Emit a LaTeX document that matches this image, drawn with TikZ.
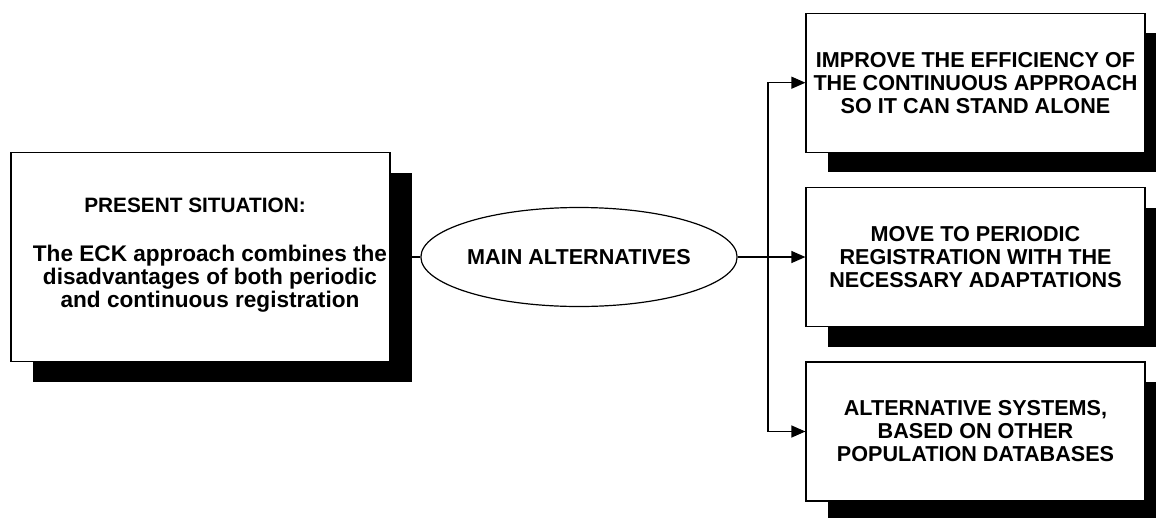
\documentclass[tikz,border=0pt]{standalone}
\usepackage{fontspec}
\setmainfont{Liberation Sans}
\usetikzlibrary{shapes.geometric,shadows,arrows.meta}
\tikzset{
  blockbox/.style={draw, line width=1.2pt, fill=white, minimum width=339pt, minimum height=139pt,
    align=center, inner sep=0pt,
    drop shadow={shadow xshift=22pt, shadow yshift=-20pt, fill=black, opacity=1}},
  link/.style={line width=1.2pt},
  pointer/.style={link, -{Triangle[length=14pt,width=12pt]}}
}
\begin{document}
\begin{tikzpicture}[x=1pt,y=-1pt,font=\bfseries\fontsize{21.6}{23}\selectfont]
  \useasboundingbox (0,0) rectangle (1156,517);

  \node[blockbox, minimum width=379pt, minimum height=209pt] (present) at (200.5,257) {};
  \node[align=center, font=\bfseries\fontsize{22.6}{23}\selectfont] (situation) at (210,255.5)
    {{\fontsize{20.8}{23}\selectfont PRESENT SITUATION:}\hspace*{30pt}\\[26pt]
    The ECK approach combines the\\ disadvantages of both periodic\\ and continuous registration};

  \node[draw, ellipse, line width=1.2pt, minimum width=302pt, minimum height=99pt, inner sep=0pt]
    (alt) at (579,257) {MAIN ALTERNATIVES};

  \node[blockbox] (improve) at (975.5,82.7) {IMPROVE THE EFFICIENCY OF\\ THE CONTINUOUS APPROACH\\ SO IT CAN STAND ALONE};
  \node[blockbox] (periodic) at (975.5,257) {MOVE TO PERIODIC\\ REGISTRATION WITH THE\\ NECESSARY ADAPTATIONS};
  \node[blockbox] (other) at (975.5,431.5) {ALTERNATIVE SYSTEMS,\\ BASED ON OTHER\\ POPULATION DATABASES};

  \coordinate (fork) at (768,257);
  \draw[link] (present.east) -- (alt.west);
  \draw[link] (alt.east) -- (fork);
  \draw[pointer] (fork) -- (periodic.west);
  \draw[pointer] (fork) |- (improve.west);
  \draw[pointer] (fork) |- (other.west);
\end{tikzpicture}
\end{document}
